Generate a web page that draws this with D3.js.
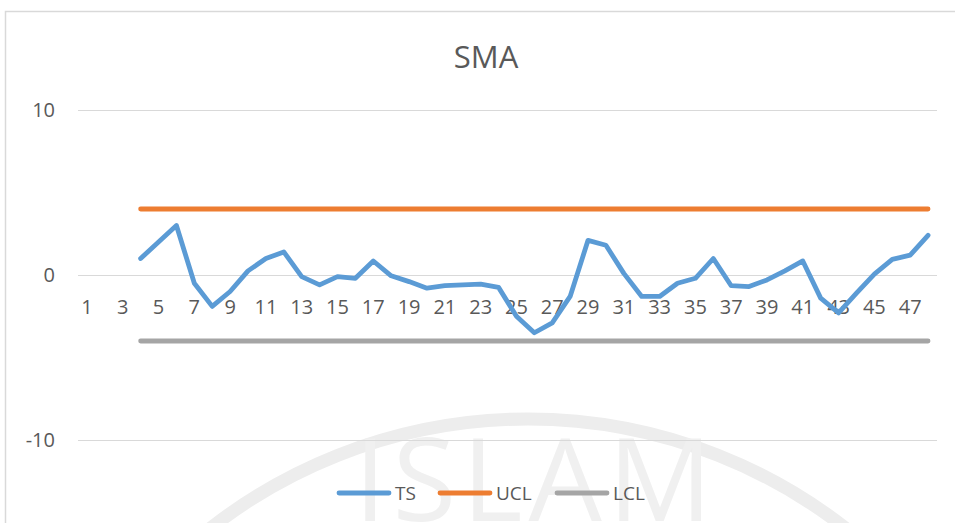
<!DOCTYPE html>
<html>
<head>
<meta charset="utf-8">
<script src="https://cdn.jsdelivr.net/npm/d3@7"></script>
<style>
  body { margin: 0; background: #fff; }
  svg { display: block; font-family: "Open Sans", sans-serif; }
</style>
</head>
<body>
<div id="chart"></div>
<script>
// chart data
var categories = [1, 2, 3, 4, 5, 6, 7, 8, 9, 10, 11, 12, 13, 14, 15, 16, 17, 18, 19, 20, 21, 22, 23, 24,
                  25, 26, 27, 28, 29, 30, 31, 32, 33, 34, 35, 36, 37, 38, 39, 40, 41, 42, 43, 44, 45, 46, 47, 48];
var tsValues = [null, null, null, 1.0, 2.0, 3.0, -0.5, -1.9, -1.0, 0.25, 1.0, 1.4, -0.1, -0.6, -0.1, -0.2,
                0.85, -0.05, -0.4, -0.8, -0.65, -0.6, -0.55, -0.75, -2.5, -3.5, -2.9, -1.3, 2.1, 1.8, 0.1, -1.3,
                -1.3, -0.5, -0.2, 1.0, -0.65, -0.7, -0.3, 0.25, 0.85, -1.4, -2.3, -1.1, 0.05, 0.95, 1.2, 2.4];
var uclValues = [null, null, null, 4, 4, 4, 4, 4, 4, 4, 4, 4, 4, 4, 4, 4, 4, 4, 4, 4, 4, 4, 4, 4,
                 4, 4, 4, 4, 4, 4, 4, 4, 4, 4, 4, 4, 4, 4, 4, 4, 4, 4, 4, 4, 4, 4, 4, 4];
var lclValues = [null, null, null, -4, -4, -4, -4, -4, -4, -4, -4, -4, -4, -4, -4, -4, -4, -4, -4, -4, -4, -4, -4, -4,
                 -4, -4, -4, -4, -4, -4, -4, -4, -4, -4, -4, -4, -4, -4, -4, -4, -4, -4, -4, -4, -4, -4, -4, -4];
var xTickLabels = [1, 3, 5, 7, 9, 11, 13, 15, 17, 19, 21, 23, 25, 27, 29, 31, 33, 35, 37, 39, 41, 43, 45, 47];
var yTicks = [-10, 0, 10];
var seriesNames = ["TS", "UCL", "LCL"];
var seriesColors = ["#5B9BD5", "#ED7D31", "#A5A5A5"];

var W = 955, H = 523;
var plot = {left: 78, right: 937, top: 110, bottom: 440};

var svg = d3.select("#chart").append("svg")
    .attr("width", W)
    .attr("height", H);

// faint watermark from the scanned page
var wm = svg.append("g").attr("class", "watermark");
wm.append("circle")
    .attr("cx", 528).attr("cy", 935).attr("r", 516)
    .attr("fill", "none")
    .attr("stroke", "#ededed")
    .attr("stroke-width", 13);
wm.append("text")
    .attr("x", 354).attr("y", 521)
    .attr("font-size", "116px")
    .attr("fill", "#f0f0f0")
    .attr("letter-spacing", "6px")
    .text("ISLAM");

// chart frame
svg.append("rect")
    .attr("x", 5.5).attr("y", 11.5)
    .attr("width", W + 10).attr("height", H + 10)
    .attr("fill", "none")
    .attr("stroke", "#d9d9d9")
    .attr("stroke-width", 1.5);

var x = d3.scaleBand()
    .domain(categories)
    .range([plot.left, plot.right]);

var y = d3.scaleLinear()
    .domain([-10, 10])
    .range([plot.bottom, plot.top]);

// gridlines
svg.append("g")
    .selectAll("line")
    .data(yTicks)
    .enter()
    .append("line")
    .attr("x1", plot.left)
    .attr("x2", plot.right)
    .attr("y1", d => Math.round(y(d)) + 0.5)
    .attr("y2", d => Math.round(y(d)) + 0.5)
    .attr("stroke", "#d9d9d9")
    .attr("stroke-width", 1);

// y axis labels (plain hyphen for negatives, like the original)
var yAxis = svg.append("g")
    .attr("transform", "translate(" + plot.left + ",0)")
    .call(d3.axisLeft(y).tickValues(yTicks).tickSize(0).tickPadding(23).tickFormat(d => String(d)));
yAxis.select(".domain").remove();
yAxis.selectAll("text")
    .attr("font-family", "'Open Sans', sans-serif")
    .attr("font-size", "20px")
    .attr("fill", "#595959");

// x axis labels (sit just under the zero line)
var xAxis = svg.append("g")
    .attr("transform", "translate(0," + y(0) + ")")
    .call(d3.axisBottom(x).tickValues(xTickLabels).tickSize(0).tickPadding(25));
xAxis.select(".domain").remove();
xAxis.selectAll("text")
    .attr("font-family", "'Open Sans', sans-serif")
    .attr("font-size", "20px")
    .attr("fill", "#595959");

// series lines
var line = d3.line()
    .defined(d => d.v !== null)
    .x(d => x(d.c) + x.bandwidth() / 2)
    .y(d => y(d.v));

var allSeries = [tsValues, uclValues, lclValues];
allSeries.forEach(function (vals, i) {
    var pts = categories.map((c, j) => ({c: c, v: vals[j]}));
    svg.append("path")
        .datum(pts)
        .attr("d", line)
        .attr("fill", "none")
        .attr("stroke", seriesColors[i])
        .attr("stroke-width", 4.8)
        .attr("stroke-linejoin", "round")
        .attr("stroke-linecap", "round");
});

// title
svg.append("text")
    .attr("x", 486)
    .attr("y", 68)
    .attr("text-anchor", "middle")
    .attr("font-size", "31px")
    .attr("fill", "#595959")
    .text("SMA");

// legend
var legendX = [339, 440, 557];
var legend = svg.append("g");
seriesNames.forEach(function (name, i) {
    var g = legend.append("g").attr("transform", "translate(" + legendX[i] + ",493)");
    g.append("line")
        .attr("x1", 0).attr("x2", 50)
        .attr("y1", 0).attr("y2", 0)
        .attr("stroke", seriesColors[i])
        .attr("stroke-width", 4.8)
        .attr("stroke-linecap", "round");
    g.append("text")
        .attr("x", 56)
        .attr("y", 7)
        .attr("font-size", "19px")
        .attr("fill", "#595959")
        .text(name);
});
</script>
</body>
</html>
